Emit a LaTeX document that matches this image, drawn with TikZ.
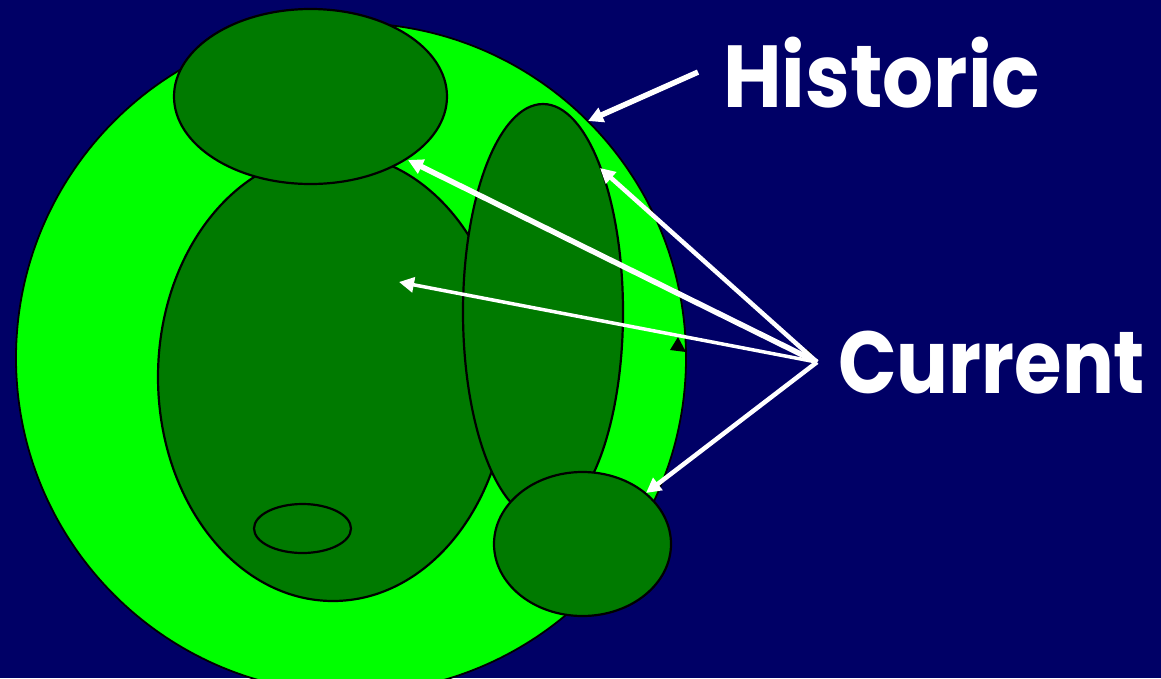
\documentclass[tikz,border=0pt]{standalone}
\usepackage{graphicx}
\usepackage{fontspec}
\newfontfamily\labelfont{Poppins}
\usetikzlibrary{arrows.meta,shapes.geometric}
\definecolor{navy}{RGB}{0,0,102}
\definecolor{cellbright}{RGB}{0,255,0}
\definecolor{celldark}{RGB}{0,122,0}

\begin{document}
\begin{tikzpicture}[x=1pt,y=-1pt,
  blob/.style={ellipse, draw=black, line width=2.2pt, fill=celldark, inner sep=0pt},
  pointer/.style={white, line width=4.5pt, -{Triangle[length=15pt,width=15pt]}},
  tag/.style={text=white, font=\labelfont\bfseries\fontsize{88}{88}\selectfont, inner sep=0pt, anchor=base west}]
\useasboundingbox (0,0) rectangle (1161,678);
\fill[navy] (0,0) rectangle (1161,678);
\node[ellipse, draw=black, line width=1.8pt, fill=cellbright, minimum width=670pt, minimum height=670pt, inner sep=0pt] (cell) at (351,358) {};
\node[blob, minimum width=350pt, minimum height=448pt] (body) at (333,377) {};
\node[blob, minimum width=97pt, minimum height=49pt] (spot) at (302.5,528.5) {};
\node[blob, minimum width=160pt, minimum height=416pt] (tall) at (543,312) {};
\node[blob, minimum width=273pt, minimum height=175pt] (cap) at (310.5,96.5) {};
\node[blob, minimum width=177pt, minimum height=144pt] (bud) at (582.5,544) {};

\node[tag] (historic) at (723,107) {\resizebox{317pt}{\height}{Historic}};
\node[tag] (current) at (838,393) {\resizebox{307pt}{\height}{Current}};

\coordinate (histtail) at ([xshift=-25pt]historic.west);
\coordinate (currtail) at ([xshift=-21pt]current.west);
\coordinate (histtip) at (588,121);
\coordinate (captip) at (408,160);
\coordinate (bodytip) at (399,282);
\coordinate (talltip) at (600,168);
\coordinate (budtip) at (646,493);

\fill[black] (670,350) -- (678,337) -- (686,352) -- cycle;
\fill[black] (801,358) -- (808,349) -- (816,360) -- cycle;

\draw[pointer, line width=5.5pt] (histtail) -- (histtip);
\draw[pointer, line width=5.5pt] (currtail) -- (captip);
\draw[pointer, line width=3.5pt] (currtail) -- (bodytip);
\draw[pointer] (currtail) -- (talltip);
\draw[pointer] (currtail) -- (budtip);
\end{tikzpicture}
\end{document}
